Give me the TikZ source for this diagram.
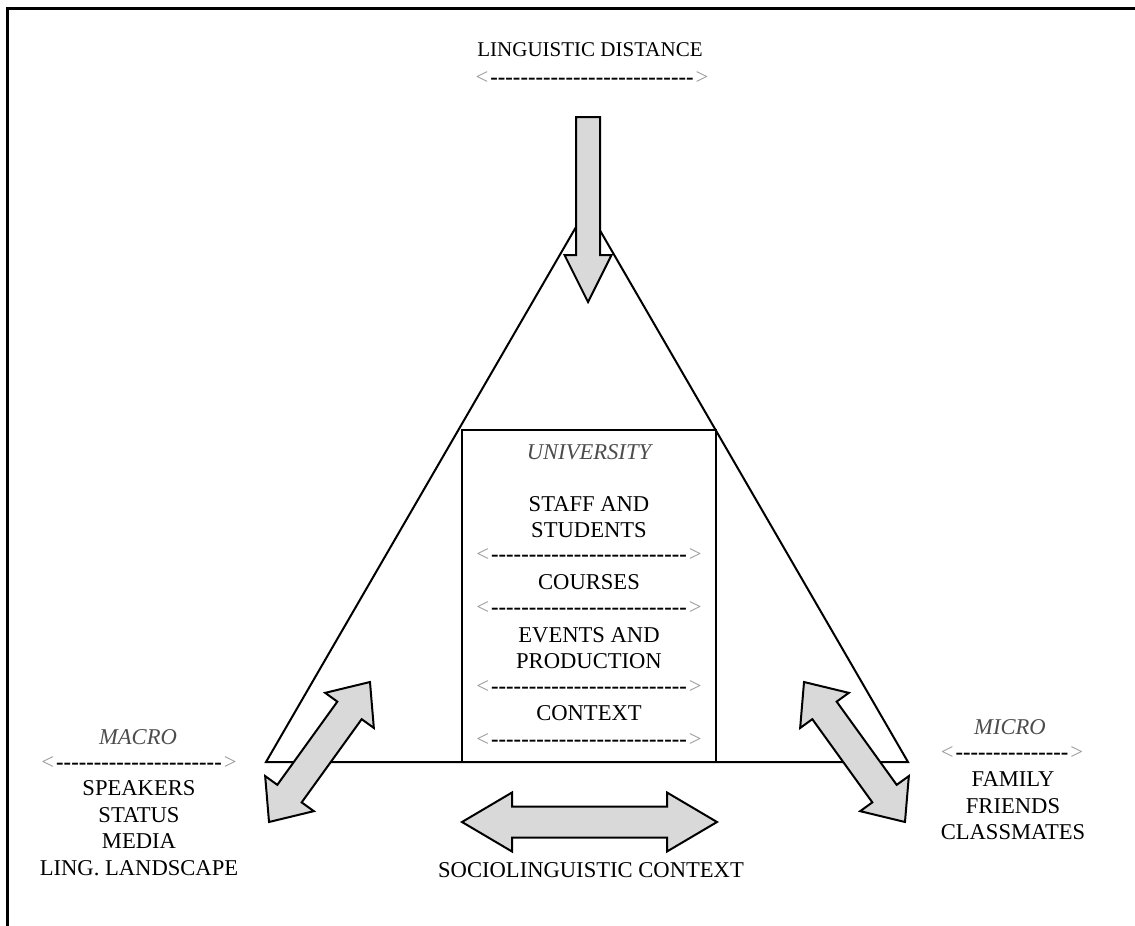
\documentclass[tikz,border=0pt]{standalone}
\usepackage{fontspec}
\setmainfont{Liberation Serif}

\newcommand{\dashrow}[1]{{\color{black!40}<}\hspace{2pt}{\bfseries\foreach \k in {1,...,#1}{-\kern0pt}}\hspace{2pt}{\color{black!40}>}}

\tikzset{
    lbl/.style={font=\fontsize{22.6}{26.5}\selectfont, align=center, inner sep=0pt},
    itlbl/.style={lbl, font=\fontsize{22.6}{26.5}\selectfont\itshape, text=black!70},
    arrowfill/.style={fill=black!15, draw=black, line width=2pt, line join=miter},
    pics/dblarrow/.style n args={4}{code={
        \filldraw[arrowfill] (-#1,0) -- (-#1+#2,#3) -- (-#1+#2,#4) -- (#1-#2,#4) -- (#1-#2,#3) -- (#1,0)
            -- (#1-#2,-#3) -- (#1-#2,-#4) -- (-#1+#2,-#4) -- (-#1+#2,-#3) -- cycle;
    }}
}

\begin{document}
\begin{tikzpicture}[x=1pt,y=1pt]
    \useasboundingbox (0,0) rectangle (1135,-926);
    \draw[line width=3pt] (7,-926) -- (7,-8) -- (1135,-8);

    % triangle and university box
    \draw[line width=2pt, line join=miter] (266,-762) -- (587,-208) -- (908,-762) -- cycle;
    \draw[line width=2.4pt] (462,-430) rectangle (716,-762);

    % block arrows
    \filldraw[arrowfill] (576,-117) -- (600,-117) -- (600,-255) -- (611.5,-255) -- (588,-302)
        -- (564.5,-255) -- (576,-255) -- cycle;
    \pic[rotate=54.2] at (319.5,-752) {dblarrow={86.3}{35}{30}{15}};
    \pic[rotate=125.8] at (854.5,-752) {dblarrow={86.3}{35}{30}{15}};
    \pic at (589.5,-822) {dblarrow={127.5}{50}{29.5}{15.5}};

    \node[lbl, font=\fontsize{21}{26}\selectfont] (ling) at (590,-50) {LINGUISTIC DISTANCE};
    \node[lbl] (lingdash) at (592,-78) {\dashrow{27}};

    \node[itlbl] (univ) at (589,-452) {UNIVERSITY};
    \node[lbl] (staff) at (589,-517) {STAFF AND\\STUDENTS};
    \node[lbl] (dashA) at (589,-555) {\dashrow{26}};
    \node[lbl] (courses) at (589,-582) {COURSES};
    \node[lbl] (dashB) at (589,-608) {\dashrow{26}};
    \node[lbl] (events) at (589,-648) {EVENTS AND\\PRODUCTION};
    \node[lbl] (dashC) at (589,-687) {\dashrow{26}};
    \node[lbl] (context) at (589,-713) {CONTEXT};
    \node[lbl] (dashD) at (589,-740) {\dashrow{26}};

    \node[itlbl] (macro) at (138,-737) {MACRO};
    \node[lbl] (macrodash) at (139,-763) {\dashrow{22}};
    \node[lbl] (macrolist) at (139,-828) {SPEAKERS\\STATUS\\MEDIA\\LING. LANDSCAPE};

    \node[itlbl] (micro) at (1010,-727) {MICRO};
    \node[lbl] (microdash) at (1012,-753) {\dashrow{15}};
    \node[lbl] (microlist) at (1013,-806) {FAMILY\\FRIENDS\\CLASSMATES};

    \node[lbl] (socio) at (591,-870) {SOCIOLINGUISTIC CONTEXT};
\end{tikzpicture}
\end{document}
